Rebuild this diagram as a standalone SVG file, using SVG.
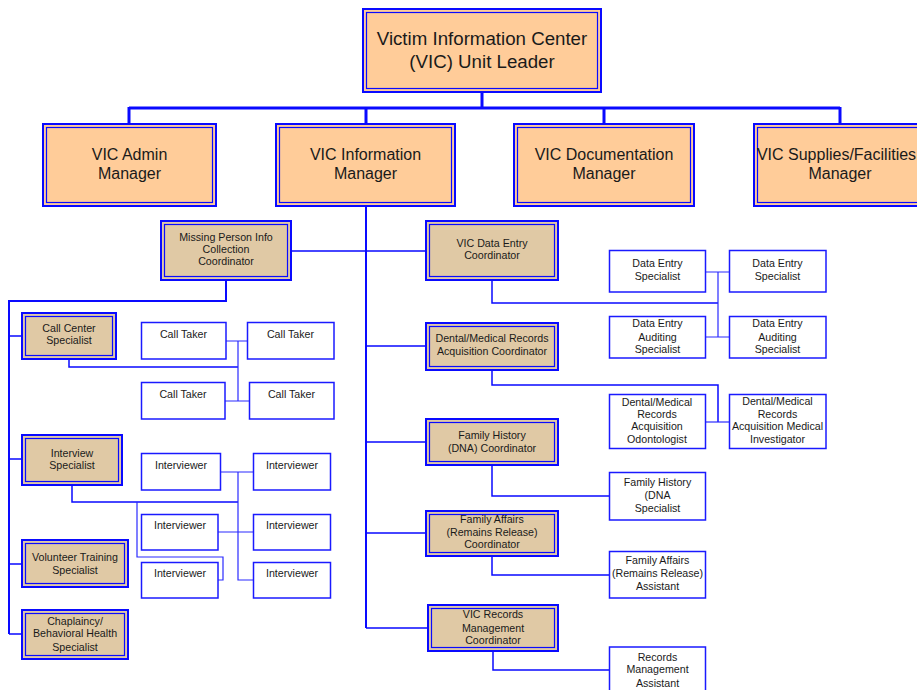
<svg xmlns="http://www.w3.org/2000/svg" width="917" height="690" viewBox="0 0 917 690">
<style>
.o{stroke:#0a0aff;stroke-width:2}
.i{fill:none;stroke:#0a0aff;stroke-width:1.2}
.pe{fill:#ffcc99}
.tn{fill:#e0c9a5}
.w{fill:#ffffff;stroke:#1a1aff;stroke-width:1.5}
text{font-family:"Liberation Sans",Arial,sans-serif;fill:#1a1a1a;text-anchor:middle}
.big{font-size:18.7px}
.mid{font-size:16px}
.sm{font-size:10.67px}
.c{fill:none;stroke:#0a0aff}
.c3{stroke-width:3}
.c2{stroke-width:2}
.c15{stroke-width:1.5}
.c1{stroke-width:1.2;stroke:#2a2aff}
</style>
<rect width="917" height="690" fill="#ffffff"/>
<g id="connectors">
<path class="c c3" d="M482,93V108M129,108H840M129,107V123M366,107V123M604,107V123M840,107V123"/>
<path class="c c2" d="M366,207V628"/>
<path class="c c15" d="M292,251H425M366,346H425M366,442H425M366,533H425M366,628H427"/>
<path class="c c2" d="M226,281V301H9V634"/>
<path class="c c15" d="M9,336H21M9,459H21M9,564H21M9,634H21"/>
<path class="c c15" d="M69,360V367H238"/>
<path class="c c1" d="M238,341V401M226,341H247M225,401H249"/>
<path class="c c15" d="M72,486V502H238"/>
<path class="c c1" d="M238,472V580H253M221,472H253M218,532H253M137,502V557H223V580H218"/>
<path class="c c15" d="M492,281V303H718"/>
<path class="c c1" d="M718,272V337M706,272H729M706,337H729"/>
<path class="c c15" d="M492,371V385H718V422"/>
<path class="c c1" d="M706,422H729"/>
<path class="c c15" d="M492,466V496H609M492,557V575H609M493,652V670H609"/>
</g>
<g id="unit-leader">
<rect class="o pe" x="363" y="9" width="238" height="83"/>
<rect class="i" x="366.5" y="12.5" width="231" height="76"/>
<text class="big" x="482" y="45">Victim Information Center</text>
<text class="big" x="482" y="67.5">(VIC) Unit Leader</text>
</g>
<g id="admin-manager">
<rect class="o pe" x="43" y="124" width="173" height="82"/>
<rect class="i" x="46.5" y="127.5" width="166" height="75"/>
<text class="mid" x="129.5" y="160">VIC Admin</text>
<text class="mid" x="129.5" y="179">Manager</text>
</g>
<g id="information-manager">
<rect class="o pe" x="276" y="124" width="179" height="82"/>
<rect class="i" x="279.5" y="127.5" width="172" height="75"/>
<text class="mid" x="365.5" y="160">VIC Information</text>
<text class="mid" x="365.5" y="179">Manager</text>
</g>
<g id="documentation-manager">
<rect class="o pe" x="514" y="124" width="180" height="82"/>
<rect class="i" x="517.5" y="127.5" width="173" height="75"/>
<text class="mid" x="604" y="160">VIC Documentation</text>
<text class="mid" x="604" y="179">Manager</text>
</g>
<g id="supplies-manager">
<rect class="o pe" x="754" y="124" width="180" height="82"/>
<rect class="i" x="757.5" y="127.5" width="173" height="75"/>
<text class="mid" x="836.5" y="160">VIC Supplies/Facilities</text>
<text class="mid" x="840" y="179">Manager</text>
</g>
<g id="missing-person">
<rect class="o tn" x="161" y="221" width="130" height="59"/>
<rect class="i" x="164.5" y="224.5" width="123" height="52"/>
<text class="sm" x="226" y="240.7">Missing Person Info</text>
<text class="sm" x="226" y="253.3">Collection</text>
<text class="sm" x="226" y="265">Coordinator</text>
</g>
<g id="call-center">
<rect class="o tn" x="22" y="313" width="94" height="46"/>
<rect class="i" x="25.5" y="316.5" width="87" height="39"/>
<text class="sm" x="69" y="332.3">Call Center</text>
<text class="sm" x="69" y="344.3">Specialist</text>
</g>
<g id="interview">
<rect class="o tn" x="22" y="435" width="100" height="50"/>
<rect class="i" x="25.5" y="438.5" width="93" height="43"/>
<text class="sm" x="72" y="456.7">Interview</text>
<text class="sm" x="72" y="469.3">Specialist</text>
</g>
<g id="volunteer">
<rect class="o tn" x="22" y="540" width="106" height="47"/>
<rect class="i" x="25.5" y="543.5" width="99" height="40"/>
<text class="sm" x="75" y="560.7">Volunteer Training</text>
<text class="sm" x="75" y="573.7">Specialist</text>
</g>
<g id="chaplaincy">
<rect class="o tn" x="22" y="610" width="106" height="49"/>
<rect class="i" x="25.5" y="613.5" width="99" height="42"/>
<text class="sm" x="75" y="625">Chaplaincy/</text>
<text class="sm" x="75" y="637.3">Behavioral Health</text>
<text class="sm" x="75" y="650.7">Specialist</text>
</g>
<g id="call-taker-1"><rect class="w" x="141.5" y="322.5" width="84.5" height="36.5"/><text class="sm" x="183.5" y="338">Call Taker</text></g>
<g id="call-taker-2"><rect class="w" x="247.5" y="322.5" width="86.5" height="36.5"/><text class="sm" x="290.5" y="338">Call Taker</text></g>
<g id="call-taker-3"><rect class="w" x="141.5" y="382.5" width="83.5" height="36.5"/><text class="sm" x="183" y="398">Call Taker</text></g>
<g id="call-taker-4"><rect class="w" x="249.5" y="382.5" width="84.5" height="36.5"/><text class="sm" x="291.5" y="398">Call Taker</text></g>
<g id="interviewer-1"><rect class="w" x="141.5" y="453.5" width="79" height="36.5"/><text class="sm" x="181" y="469">Interviewer</text></g>
<g id="interviewer-2"><rect class="w" x="253.5" y="453.5" width="77" height="36.5"/><text class="sm" x="292" y="469">Interviewer</text></g>
<g id="interviewer-3"><rect class="w" x="141.5" y="514.5" width="76.5" height="35.5"/><text class="sm" x="180" y="529">Interviewer</text></g>
<g id="interviewer-4"><rect class="w" x="253.5" y="514.5" width="77" height="35.5"/><text class="sm" x="292" y="529">Interviewer</text></g>
<g id="interviewer-5"><rect class="w" x="141.5" y="562.5" width="76.5" height="35.5"/><text class="sm" x="180" y="577.3">Interviewer</text></g>
<g id="interviewer-6"><rect class="w" x="253.5" y="562.5" width="77" height="35.5"/><text class="sm" x="292" y="577.3">Interviewer</text></g>
<g id="data-entry-coordinator">
<rect class="o tn" x="426" y="221" width="132" height="59"/>
<rect class="i" x="429.5" y="224.5" width="125" height="52"/>
<text class="sm" x="492" y="246.7">VIC Data Entry</text>
<text class="sm" x="492" y="259.3">Coordinator</text>
</g>
<g id="dental-coordinator">
<rect class="o tn" x="426" y="323" width="132" height="47"/>
<rect class="i" x="429.5" y="326.5" width="125" height="40"/>
<text class="sm" x="492" y="342.3">Dental/Medical Records</text>
<text class="sm" x="492" y="355.3">Acquisition Coordinator</text>
</g>
<g id="family-history-coordinator">
<rect class="o tn" x="426" y="419" width="132" height="46"/>
<rect class="i" x="429.5" y="422.5" width="125" height="39"/>
<text class="sm" x="492" y="439">Family History</text>
<text class="sm" x="492" y="451.5">(DNA) Coordinator</text>
</g>
<g id="family-affairs-coordinator">
<rect class="o tn" x="426" y="511" width="132" height="45"/>
<rect class="i" x="429.5" y="514.5" width="125" height="38"/>
<text class="sm" x="492" y="523.3">Family Affairs</text>
<text class="sm" x="492" y="536">(Remains Release)</text>
<text class="sm" x="492" y="548.3">Coordinator</text>
</g>
<g id="records-coordinator">
<rect class="o tn" x="428" y="605" width="130" height="46"/>
<rect class="i" x="431.5" y="608.5" width="123" height="39"/>
<text class="sm" x="493" y="618.3">VIC Records</text>
<text class="sm" x="493" y="631.7">Management</text>
<text class="sm" x="493" y="644.3">Coordinator</text>
</g>
<g id="data-entry-specialist-1"><rect class="w" x="609.5" y="250.5" width="96" height="41.5"/><text class="sm" x="657.5" y="267.3">Data Entry</text><text class="sm" x="657.5" y="280">Specialist</text></g>
<g id="data-entry-specialist-2"><rect class="w" x="729.5" y="250.5" width="96.5" height="41.5"/><text class="sm" x="777.5" y="267.3">Data Entry</text><text class="sm" x="777.5" y="280">Specialist</text></g>
<g id="auditing-specialist-1"><rect class="w" x="609.5" y="316.5" width="96" height="41.5"/><text class="sm" x="657.5" y="327.3">Data Entry</text><text class="sm" x="657.5" y="340.7">Auditing</text><text class="sm" x="657.5" y="353.3">Specialist</text></g>
<g id="auditing-specialist-2"><rect class="w" x="729.5" y="316.5" width="96.5" height="41.5"/><text class="sm" x="777.5" y="327.3">Data Entry</text><text class="sm" x="777.5" y="340.7">Auditing</text><text class="sm" x="777.5" y="353.3">Specialist</text></g>
<g id="odontologist"><rect class="w" x="609.5" y="394.5" width="96" height="54"/><text class="sm" x="657" y="405.7">Dental/Medical</text><text class="sm" x="657" y="417.7">Records</text><text class="sm" x="657" y="430.3">Acquisition</text><text class="sm" x="657" y="443.3">Odontologist</text></g>
<g id="medical-investigator"><rect class="w" x="729.5" y="394.5" width="96.5" height="54"/><text class="sm" x="777.5" y="404.7">Dental/Medical</text><text class="sm" x="777.5" y="417.7">Records</text><text class="sm" x="777.5" y="430.3">Acquisition Medical</text><text class="sm" x="777.5" y="443.3">Investigator</text></g>
<g id="family-history-specialist"><rect class="w" x="609.5" y="472.5" width="96" height="47.5"/><text class="sm" x="657.5" y="486">Family History</text><text class="sm" x="657.5" y="499.3">(DNA</text><text class="sm" x="657.5" y="512.3">Specialist</text></g>
<g id="family-affairs-assistant"><rect class="w" x="609.5" y="551.5" width="96" height="46.5"/><text class="sm" x="657.5" y="564.3">Family Affairs</text><text class="sm" x="657.5" y="577.3">(Remains Release)</text><text class="sm" x="657.5" y="590">Assistant</text></g>
<g id="records-assistant"><rect class="w" x="609.5" y="647" width="96" height="50"/><text class="sm" x="657.5" y="660.7">Records</text><text class="sm" x="657.5" y="673.3">Management</text><text class="sm" x="657.5" y="686.7">Assistant</text></g>
</svg>
